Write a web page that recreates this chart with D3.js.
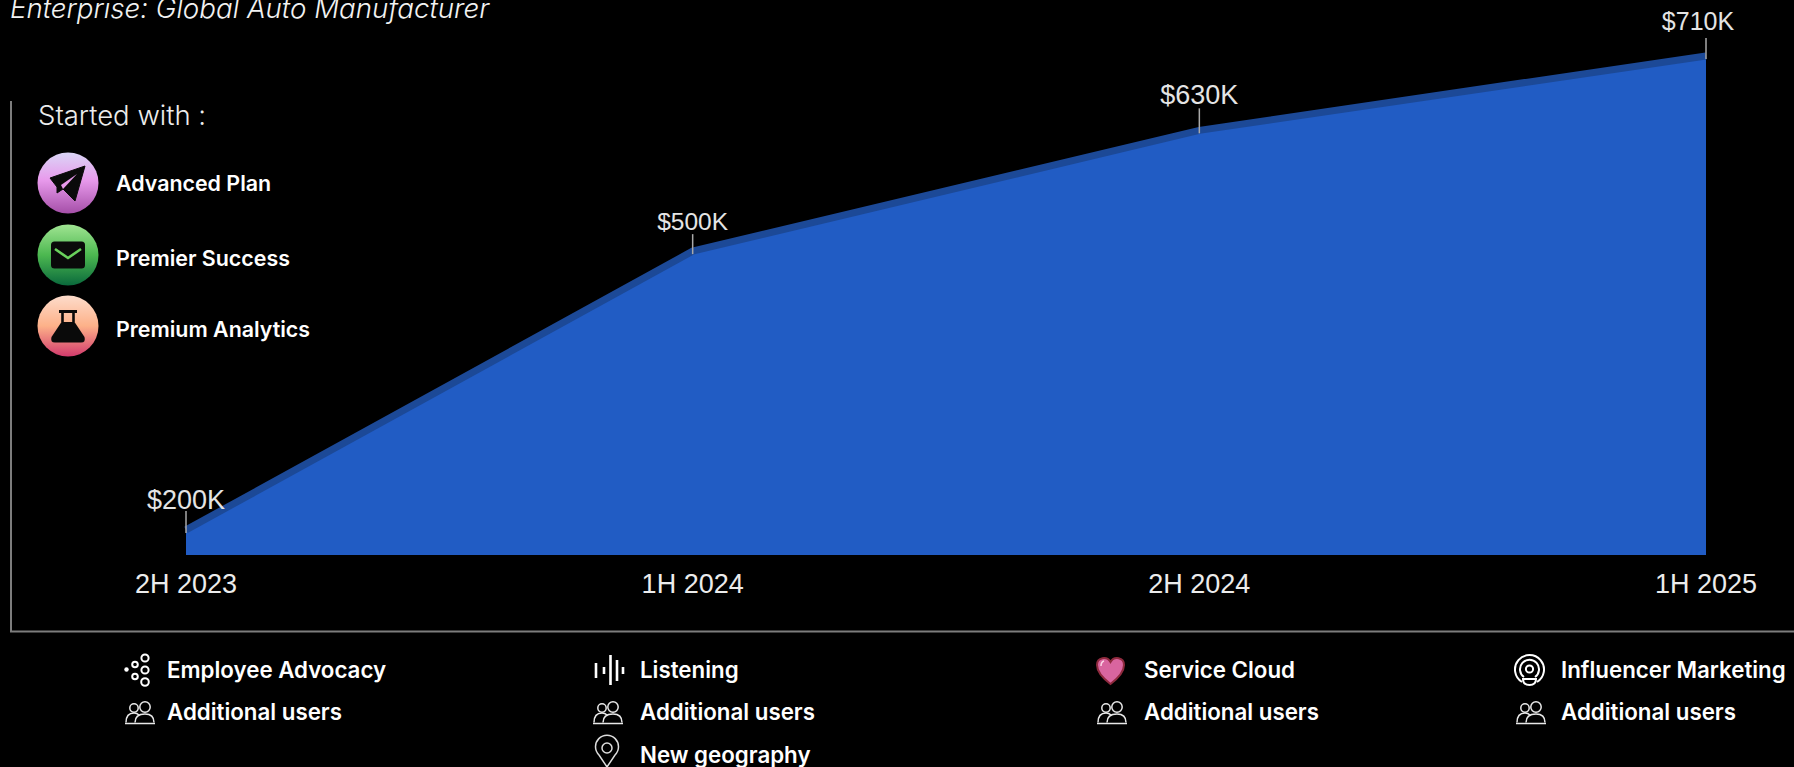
<!DOCTYPE html>
<html>
<head>
<meta charset="utf-8">
<script src="https://cdn.jsdelivr.net/npm/d3@7/dist/d3.min.js"></script>
<style>
  html, body { margin: 0; padding: 0; background: #000; overflow: hidden; }
  svg { display: block; }
  .brand { font-family: Inter, "Open Sans", sans-serif; }
  .plain { font-family: "Liberation Sans", Arial, sans-serif; }
</style>
</head>
<body>
<svg id="chart" width="1794" height="767"></svg>
<script>
// Revenue by half-year period, in thousands of dollars
const periods = ["2H 2023", "1H 2024", "2H 2024", "1H 2025"];
const revenue = [200, 500, 630, 710];
const startedWith = ["Advanced Plan", "Premier Success", "Premium Analytics"];
const expansionItems = [
  ["Employee Advocacy", "Additional users"],
  ["Listening", "Additional users", "New geography"],
  ["Service Cloud", "Additional users"],
  ["Influencer Marketing", "Additional users"]
];

const svg = d3.select("#chart");
const defs = svg.append("defs");

const x = d3.scalePoint().domain(periods).range([186, 1706]);
const y = d3.scaleLinear().domain([173, 710]).range([555, 56]);
const series = periods.map((p, i) => ({ period: p, value: revenue[i] }));

// Frame on the left and bottom
svg.append("path")
  .attr("d", "M11,101V631.5H1794")
  .attr("fill", "none").attr("stroke", "#7d7d7d").attr("stroke-width", 2);

// Title, running off the top edge
svg.append("text").attr("class", "brand")
  .attr("x", 10).attr("y", 18)
  .attr("font-size", 27.7).attr("font-style", "italic").attr("font-weight", 300)
  .attr("fill", "#f2f2f2")
  .text("Enterprise: Global Auto Manufacturer");

// Area and its darker upper edge
svg.append("path").datum(series)
  .attr("fill", "#215cc4")
  .attr("d", d3.area().x(d => x(d.period)).y0(y(173)).y1(d => y(d.value)));
svg.append("path").datum(series)
  .attr("fill", "none").attr("stroke", "#1c4997").attr("stroke-width", 7)
  .attr("d", d3.line().x(d => x(d.period)).y(d => y(d.value)));

// Value labels with leader ticks; each label is set by hand against its point
const labelShift = [[0, 4], [0, 4], [0, -1], [-8, -1]];
const labelSize = [27, 24.5, 27, 25];
const tickLength = [19, 17, 22, 18];
const points = svg.append("g").selectAll("g").data(series).join("g");
points.append("line")
  .attr("x1", d => x(d.period)).attr("x2", d => x(d.period))
  .attr("y1", (d, i) => y(d.value) - tickLength[i]).attr("y2", d => y(d.value) + 3)
  .attr("stroke", "#a9a9a9").attr("stroke-width", 1.5);
points.append("text").attr("class", "plain")
  .attr("x", (d, i) => x(d.period) + labelShift[i][0])
  .attr("y", (d, i) => y(d.value) - 25 + labelShift[i][1])
  .attr("text-anchor", "middle").attr("font-size", (d, i) => labelSize[i])
  .attr("fill", "#e4e4e4")
  .text(d => `$${d.value}K`);

// Period labels under the area
svg.append("g").selectAll("text").data(periods).join("text")
  .attr("class", "plain")
  .attr("x", d => x(d)).attr("y", 593)
  .attr("text-anchor", "middle").attr("font-size", 27)
  .attr("fill", "#ececec")
  .text(d => d);

// "Started with" block
svg.append("text").attr("class", "brand")
  .attr("x", 38).attr("y", 125).attr("font-size", 27.5).attr("fill", "#ececec").attr("font-weight", 300)
  .text("Started with :");

function gradient(id, stops) {
  const g = defs.append("linearGradient").attr("id", id)
    .attr("x1", 0).attr("x2", 0).attr("y1", 0).attr("y2", 1);
  stops.forEach(([o, c]) => g.append("stop").attr("offset", o).attr("stop-color", c));
}
gradient("badge0", [[0, "#dad6f6"], [0.45, "#e89aec"], [1, "#a54fa8"]]);
gradient("badge1", [[0, "#a0e492"], [0.5, "#4cb850"], [1, "#0a693c"]]);
gradient("badge2", [[0, "#fddccb"], [0.5, "#fdb189"], [1, "#d23a6c"]]);

const badgeY = [183, 255, 326];
const labelY = [191, 266, 337];
const badges = svg.append("g").selectAll("g").data(startedWith).join("g")
  .attr("transform", (d, i) => `translate(68,${badgeY[i]})`);
badges.append("circle").attr("r", 30.5).attr("fill", (d, i) => `url(#badge${i})`);
badges.append("text").attr("class", "brand")
  .attr("x", 48).attr("y", (d, i) => labelY[i] - badgeY[i])
  .attr("font-size", 21.4).attr("font-weight", 600).attr("fill", "#fff")
  .text(d => d);

// Paper plane
const plane = d3.select(badges.nodes()[0]);
plane.append("path")
  .attr("d", "M17,-17L-18,-5L-11,4L-11,10L-5,6L7,18Z")
  .attr("fill", "#0a0a0a").attr("stroke", "#0a0a0a").attr("stroke-width", 1).attr("stroke-linejoin", "round");
plane.append("path").attr("d", "M9,-9L-7,2L-5,6Z").attr("fill", "#e89aec");

// Envelope
const mail = d3.select(badges.nodes()[1]);
mail.append("rect").attr("x", -17).attr("y", -13.5).attr("width", 34).attr("height", 27).attr("rx", 3.5).attr("fill", "#0a0a0a");
mail.append("path").attr("d", "M-13,-6L0,3L13,-6").attr("fill", "none").attr("stroke", "#69d05c").attr("stroke-width", 2.6);

// Flask
const flask = d3.select(badges.nodes()[2]);
flask.append("rect").attr("x", -9).attr("y", -16).attr("width", 18).attr("height", 3).attr("fill", "#0a0a0a");
flask.append("path").attr("d", "M-5.5,-14V-4M5.5,-14V-4").attr("stroke", "#0a0a0a").attr("stroke-width", 2.6);
flask.append("path")
  .attr("d", "M-6.5,-4H6.5L16.5,11Q18,16.5 13,16.5H-13Q-18,16.5 -16.5,11Z")
  .attr("fill", "#0a0a0a");

// Expansion lists below the chart
const columnTextX = [167, 640, 1144, 1561];
const rowBaselines = [678, 720, 763];
const columns = svg.append("g").selectAll("g").data(expansionItems).join("g");
columns.selectAll("text").data((d, i) => d.map((t, r) => ({ t, r, c: i }))).join("text")
  .attr("class", "brand")
  .attr("x", d => columnTextX[d.c]).attr("y", d => rowBaselines[d.r])
  .attr("font-size", 22.3).attr("font-weight", 600).attr("fill", "#fff")
  .text(d => d.t);

// People glyph beside each "Additional users"
[125, 593, 1097, 1516].forEach(px => {
  const g = svg.append("g").attr("transform", `translate(${px},0)`)
    .attr("fill", "none").attr("stroke", "#e8e8e8").attr("stroke-width", 1.5);
  g.append("circle").attr("cx", 9).attr("cy", 708).attr("r", 4.2);
  g.append("circle").attr("cx", 20).attr("cy", 707).attr("r", 5.2);
  g.append("path").attr("d", "M1,722.5Q1,713 9,713Q12,713 14,715M10,722.5Q10,714 20,714Q29,714 29,722.5");
  g.append("path").attr("d", "M0,723.5H30");
});

// Connected circles
const cluster = svg.append("g").attr("fill", "none").attr("stroke", "#fff").attr("stroke-width", 2);
[[135, 664.5, 2.8], [135, 676.5, 2.8], [145, 658, 3.6], [145, 670, 3.6], [145, 682, 3.8]]
  .forEach(([cx, cy, r]) => cluster.append("circle").attr("cx", cx).attr("cy", cy).attr("r", r));
svg.append("circle").attr("cx", 126.5).attr("cy", 669.5).attr("r", 2.2).attr("fill", "#fff");

// Sound bars
svg.append("path")
  .attr("d", "M596,663V678M604,667V674M610.5,655V685M617,660V681M623,667V674")
  .attr("stroke", "#fff").attr("stroke-width", 2.6).attr("fill", "none");

// Map pin
const pin = svg.append("g").attr("fill", "none").attr("stroke", "#dcdcdc").attr("stroke-width", 1.5);
pin.append("path").attr("d", "M607,767L599,755A11.5,11.5 0 1 1 615,755Z");
pin.append("circle").attr("cx", 607).attr("cy", 748).attr("r", 5);

// Heart
svg.append("path")
  .attr("d", "M1110.5,684C1100,676 1097,670 1097,665C1097,657 1107,656 1110.5,662C1114,656 1124,657 1124,665C1124,670 1121,676 1110.5,684Z")
  .attr("fill", "#d9659f").attr("stroke", "#8f2a3e").attr("stroke-width", 2);
svg.append("path").attr("d", "M1101,666Q1101,662 1104,661").attr("fill", "none").attr("stroke", "#fbd5e6").attr("stroke-width", 1.5);

// Broadcast rings
const rings = svg.append("g").attr("fill", "none").attr("stroke", "#fff").attr("stroke-width", 2);
rings.append("path").attr("d", "M1522,682A14.5,14.5 0 1 1 1537,682");
rings.append("path").attr("d", "M1524,677A9.5,9.5 0 1 1 1535,677");
rings.append("circle").attr("cx", 1529.5).attr("cy", 669).attr("r", 3.6);
rings.append("path").attr("d", "M1523,679H1536Q1536,685 1529.5,685Q1523,685 1523,679Z");
</script>
</body>
</html>
